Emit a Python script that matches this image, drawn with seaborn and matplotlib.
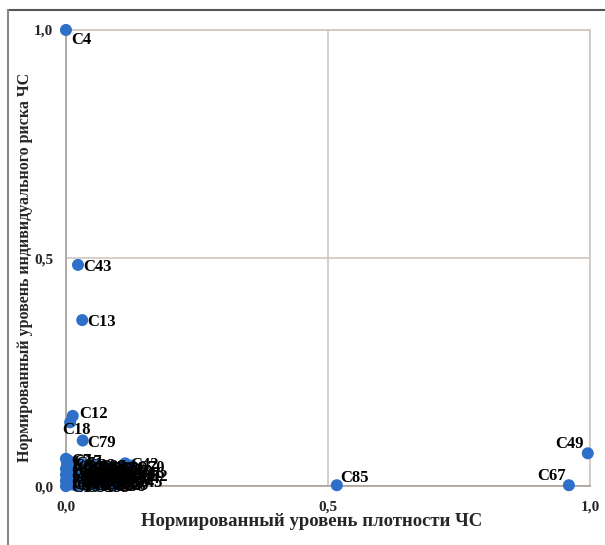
import pandas as pd
import matplotlib.pyplot as plt
from matplotlib.lines import Line2D
import seaborn as sns

sns.set_theme(style='white')
plt.rcParams['font.family'] = ['Liberation Serif', 'DejaVu Serif']
plt.rcParams['font.weight'] = 'bold'

# named points
names = ["C4", "C43", "C13", "C12", "C18", "C79", "C49", "C67", "C85", "C17", "C42"]
density = [0.000, 0.023, 0.031, 0.013, 0.008, 0.032, 0.996, 0.960, 0.517, 0.004, 0.113]
risk = [1.000, 0.485, 0.364, 0.154, 0.140, 0.100, 0.072, 0.002, 0.002, 0.057, 0.050]

# dense cluster near the origin (labels overlap into a blob)
cl_names = ["C1", "C2", "C3", "C5", "C6", "C7", "C8", "C9", "C10", "C11", "C14", "C15",
            "C16", "C19", "C20", "C21", "C22", "C23", "C24", "C25", "C26", "C27", "C28",
            "C29", "C30", "C31", "C32", "C33", "C34", "C35", "C36", "C37", "C38", "C39",
            "C40", "C41", "C44", "C45", "C46", "C47", "C48", "C50", "C51", "C52", "C53",
            "C54", "C55", "C56", "C57", "C58", "C59", "C60", "C61", "C62", "C63", "C64",
            "C65", "C66", "C68", "C69", "C70", "C71", "C72"]
cl_density = [0.000, 0.000, 0.000, 0.000, 0.002, 0.000, 0.010, 0.015, 0.020, 0.025, 0.030, 0.035,
              0.040, 0.045, 0.050, 0.055, 0.060, 0.065, 0.070, 0.075, 0.080, 0.085, 0.090,
              0.095, 0.100, 0.012, 0.022, 0.032, 0.042, 0.052, 0.062, 0.072, 0.082, 0.092,
              0.102, 0.108, 0.115, 0.120, 0.125, 0.005, 0.008, 0.018, 0.028, 0.130, 0.038,
              0.048, 0.058, 0.068, 0.078, 0.088, 0.098, 0.003, 0.014, 0.024, 0.034, 0.044,
              0.054, 0.064, 0.074, 0.084, 0.125, 0.009, 0.019]
cl_risk = [0.000, 0.012, 0.025, 0.038, 0.048, 0.060, 0.004, 0.020, 0.008, 0.030, 0.015, 0.040,
           0.005, 0.022, 0.035, 0.010, 0.028, 0.003, 0.018, 0.006, 0.032, 0.012, 0.025,
           0.004, 0.016, 0.045, 0.042, 0.048, 0.044, 0.046, 0.040, 0.043, 0.038, 0.042,
           0.035, 0.028, 0.020, 0.012, 0.030, 0.030, 0.018, 0.002, 0.001, 0.025, 0.026,
           0.013, 0.001, 0.033, 0.021, 0.002, 0.027, 0.006, 0.033, 0.019, 0.006, 0.034,
           0.024, 0.014, 0.029, 0.007, 0.045, 0.052, 0.028]

df = pd.DataFrame({'name': names + cl_names,
                   'x': density + cl_density,
                   'y': risk + cl_risk})

fig = plt.figure(figsize=(6.05, 5.45), dpi=100)
ax = fig.add_axes([0.109, 0.108, 0.866, 0.837])

sns.scatterplot(data=df, x='x', y='y', ax=ax, color='#2E6FC8', s=75,
                edgecolor='none', clip_on=False, zorder=3)

# label placement (pixels), default right of the point
special = {"C4": (5, -10, 'left'), "C85": (3, 7, 'left'), "C67": (-3, 9, 'right'),
           "C49": (-4, 9, 'right'), "C18": (-8, -8, 'left'), "C12": (6, 2, 'left')}
for _, r in df.iterrows():
    dx, dy, ha = special.get(r['name'], (5, -2, 'left'))
    ax.annotate(r['name'], (r['x'], r['y']), xytext=(dx, dy), textcoords='offset pixels',
                ha=ha, va='center', fontsize=12, fontweight='bold', color='black',
                annotation_clip=False, zorder=4)

ax.set_xlim(0, 1)
ax.set_ylim(0, 1)
ax.set_xticks([0, 0.5, 1.0])
ax.set_yticks([0, 0.5, 1.0])
ax.set_xticklabels(['0,0', '0,5', '1,0'], fontsize=11, fontweight='bold')
ax.set_yticklabels(['0,0', '0,5', '1,0'], fontsize=11, fontweight='bold')
ax.tick_params(axis='y', length=0, pad=9)
ax.tick_params(axis='x', length=0, pad=10)
ax.grid(True, color='#CFC6C0', linewidth=1.2)
for sp in ax.spines.values():
    sp.set_color('#CFC6C0')
    sp.set_linewidth(1.2)
ax.spines['left'].set_color('#A8A09A')
ax.spines['bottom'].set_color('#A8A09A')

ax.set_xlabel('Нормированный уровень плотности ЧС', fontsize=13.5, fontweight='bold')
ax.set_ylabel('Нормированный уровень индивидуального риска ЧС', fontsize=11.5,
              fontweight='bold')
ax.xaxis.set_label_coords(0.468, -0.058)
ax.yaxis.set_label_coords(-0.062, 0.48)

# page frame lines
fig.add_artist(Line2D([8 / 605, 1], [1 - 10 / 545, 1 - 10 / 545], color='#555555', lw=1.5))
fig.add_artist(Line2D([8 / 605, 8 / 605], [0, 1 - 10 / 545], color='#888888', lw=1.5))

fig.savefig('out.png', dpi=100)
